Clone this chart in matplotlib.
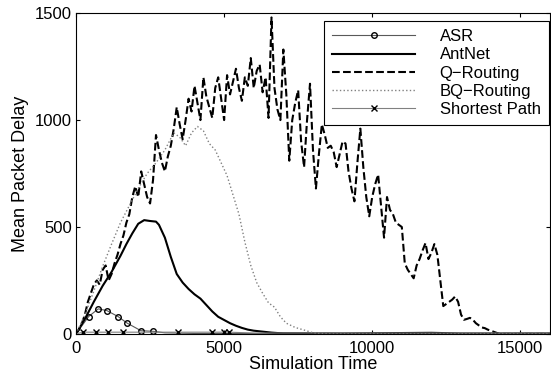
import numpy as np
import matplotlib.pyplot as plt

plt.rcParams['font.family'] = ['Liberation Sans', 'DejaVu Sans']

# Q-Routing, sampled every 100 time units
q_time = np.arange(0, 14400, 100)
q_delay = [0, 20, 50, 90, 150, 190, 230, 250, 230, 300,
           320, 250, 280, 330, 370, 420, 460, 520, 560, 640,
           690, 640, 760, 700, 640, 610, 720, 930, 860, 800,
           760, 830, 880, 960, 1060, 980, 910, 1000, 1100, 1040,
           1160, 1080, 1000, 1200, 1110, 1060, 1010, 1150, 1200, 1100,
           1000, 1210, 1120, 1180, 1240, 1150, 1090, 1200, 1160, 1290,
           1150, 1230, 1260, 1130, 1200, 1010, 1480, 1150, 1050, 1000,
           1330, 1120, 810, 1000, 1080, 1140, 900, 780, 1000, 1170,
           860, 680, 840, 980, 930, 870, 880, 850, 780, 840,
           900, 890, 760, 680, 620, 800, 960, 780, 640, 550,
           640, 700, 745, 600, 450, 640, 580, 560, 520, 510,
           500, 330, 300, 280, 260, 320, 350, 390, 425, 350,
           380, 420, 370, 250, 130, 140, 150, 160, 175, 150,
           90, 66, 70, 75, 66, 50, 40, 30, 27, 20,
           15, 10, 5, 0]
q_time = list(q_time) + [16000]
q_delay = q_delay + [0]

# BQ-Routing
bq_time = [0, 300, 600, 900, 1200, 1500, 1800, 2100, 2400, 2700,
           3000, 3300, 3500, 3700, 3900, 4100, 4300, 4500, 4700, 4900,
           5100, 5300, 5500, 5700, 5900, 6100, 6300, 6500, 6700, 6900,
           7100, 7400, 7700, 8000, 8500, 16000]
bq_delay = [0, 90, 200, 316, 420, 520, 600, 680, 750, 800,
            860, 940, 920, 880, 940, 970, 950, 890, 860, 800,
            740, 650, 560, 430, 320, 240, 190, 145, 125, 80,
            50, 30, 18, 5, 0, 0]

# AntNet
ant_time = [0, 300, 600, 900, 1200, 1500, 1700, 1900, 2100, 2300,
            2500, 2700, 2800, 3000, 3200, 3400, 3600, 3800, 4000, 4200,
            4400, 4600, 4800, 5000, 5200, 5400, 5600, 5800, 6000, 6200,
            6400, 6600, 6800, 7000, 9000, 12000, 13000, 16000]
ant_delay = [0, 70, 150, 225, 290, 365, 420, 470, 515, 532,
             528, 525, 510, 450, 360, 280, 240, 210, 185, 165,
             135, 105, 80, 65, 50, 38, 28, 20, 15, 12,
             9, 6, 4, 3, 2, 5, 2, 2]

# ASR
asr_time = [0, 425, 750, 1040, 1420, 1730, 2190, 2600, 3000, 4000, 16000]
asr_delay = [0, 81, 117, 109, 81, 50, 15, 12, 5, 2, 2]

# Shortest Path
sp_time = [0, 225, 660, 1080, 1570, 3430, 4600, 5000, 5170, 6000, 16000]
sp_delay = [0, 8, 8, 8, 8, 8, 8, 8, 8, 4, 4]

fig = plt.figure(figsize=(5.51, 3.76), dpi=100)
ax = fig.add_axes([0.138, 0.112, 0.86, 0.853])

ax.plot(asr_time, asr_delay, color='0.35', linewidth=0.8, marker='o',
        markerfacecolor='none', markeredgecolor='black', markersize=4,
        markevery=list(range(1, 8)), label='ASR')
ax.plot(ant_time, ant_delay, color='black', linewidth=1.5, label='AntNet')
ax.plot(q_time, q_delay, color='black', linewidth=1.5, linestyle='--',
        label='Q\u2212Routing')
ax.plot(bq_time, bq_delay, color='0.5', linewidth=1.0, linestyle=':',
        label='BQ\u2212Routing')
ax.plot(sp_time, sp_delay, color='0.5', linewidth=0.8, marker='x',
        markeredgecolor='black', markersize=4,
        markevery=list(range(1, 9)), label='Shortest Path')

ax.set_xlim(0, 16000)
ax.set_ylim(0, 1500)
ax.set_xticks([0, 5000, 10000, 15000])
ax.set_yticks([0, 500, 1000, 1500])
ax.tick_params(direction='in', top=True, right=True, length=3,
               labelsize=12, width=0.8)
ax.tick_params(axis='x', pad=5)
ax.tick_params(axis='y', pad=3)
ax.set_xlabel('Simulation Time', fontsize=13, labelpad=0)
ax.set_ylabel('Mean Packet Delay', fontsize=13, labelpad=4)

leg = ax.legend(loc='upper right', bbox_to_anchor=(0.998, 0.976),
                borderaxespad=0, fontsize=12, handlelength=5.0,
                handletextpad=1.45, fancybox=False, framealpha=1,
                edgecolor='black', borderpad=0.5, labelspacing=0.19)
leg.get_frame().set_linewidth(0.8)

plt.savefig('out.png', dpi=100)
